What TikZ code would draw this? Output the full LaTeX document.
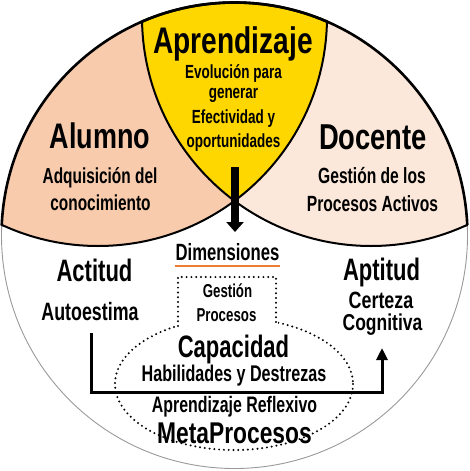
\documentclass[tikz,border=0pt]{standalone}
\usepackage{fontspec}
\newfontfamily\cf{Liberation Sans}[FakeStretch=0.76]
\newfontfamily\cn{Liberation Sans}[FakeStretch=0.71]
\usetikzlibrary{arrows.meta}
\definecolor{peach}{HTML}{F8CBAD}
\definecolor{lightpeach}{HTML}{FCE8DA}
\definecolor{gold}{HTML}{FFD700}
\definecolor{orangeline}{HTML}{ED7D31}
\newcommand{\fsz}[1]{\fontsize{#1}{#1}\selectfont}
\begin{document}
\begin{tikzpicture}[x=1pt,y=-1pt,
  txt/.style={inner sep=0pt, anchor=base},
  dotline/.style={line width=2.2pt, dash pattern=on 0pt off 4.8pt, line cap=round},
  regionline/.style={line width=2pt, black}]
\useasboundingbox (0,0) rectangle (469,471);
% colored regions
\begin{scope}
  \clip (234.5,235.5) circle[radius=233];
  \fill[peach] (98,17) circle[radius=229];
  \fill[lightpeach] (371,17) circle[radius=229];
  \begin{scope}
    \clip (98,17) circle[radius=229];
    \fill[gold] (371,17) circle[radius=229];
  \end{scope}
  \draw[regionline] (98,17) circle[radius=229];
  \draw[regionline] (371,17) circle[radius=229];
\end{scope}
% outer circle
\draw[gray!80, line width=0.9pt] (234.5,235.5) circle[radius=233];
\begin{scope}
  \clip (98,17) circle[radius=230];
  \draw[line width=2.6pt] (234.5,235.5) circle[radius=233];
\end{scope}
\begin{scope}
  \clip (371,17) circle[radius=230];
  \draw[line width=2.6pt] (234.5,235.5) circle[radius=233];
\end{scope}
% down arrow
\coordinate (arrtop) at (235,167);
\coordinate (arrtip) at (235,232);
\draw[line width=8pt, -{Triangle[width=17pt,length=10pt]}] (arrtop) -- (arrtip);
% dotted ellipse and box
\draw[dotline] (234,384) ellipse[x radius=119, y radius=66];
\fill[white] (176,276) rectangle (278,327.5);
\draw[dotline] (178,326) -- (178,277) -- (276,277) -- (276,322.5);
% top texts
\node[txt, font=\cf\bfseries\fsz{37}] (aprend) at (233,53) {Aprendizaje};
\node[txt, font=\cn\bfseries\fsz{19}] (evo1) at (233.5,78) {Evolución para};
\node[txt, font=\cn\bfseries\fsz{19}] (evo2) at (233.5,98.5) {generar};
\node[txt, font=\cn\bfseries\fsz{19}] (evo3) at (233.5,123) {Efectividad y};
\node[txt, font=\cn\bfseries\fsz{19}] (evo4) at (233.5,147) {oportunidades};
\node[txt, font=\cf\bfseries\fsz{35.5}] (alumno) at (100,148) {Alumno};
\node[txt, font=\cn\bfseries\fsz{21.7}] (alu1) at (100,183) {Adquisición del};
\node[txt, font=\cn\bfseries\fsz{21.7}] (alu2) at (100.5,210) {conocimiento};
\node[txt, font=\cf\bfseries\fsz{36}] (docente) at (373,149) {Docente};
\node[txt, font=\cn\bfseries\fsz{22}] (doc1) at (372,183) {Gestión de los};
\node[txt, font=\cn\bfseries\fsz{22}] (doc2) at (372.5,211) {Procesos Activos};
% lower texts
\node[txt, font=\cn\bfseries\fsz{23.5}] (dimen) at (227.5,260) {Dimensiones};
\coordinate (ulA) at (175,265.5);
\coordinate (ulB) at (280,265.5);
\draw[orangeline, line width=2pt] (ulA) -- (ulB);
\node[txt, font=\cn\bfseries\fsz{31}] (actitud) at (94.5,281.5) {Actitud};
\node[txt, font=\cn\bfseries\fsz{25.1}] (autoest) at (90,320) {Autoestima};
\node[txt, font=\cn\bfseries\fsz{31}] (aptitud) at (381.5,280) {Aptitud};
\node[txt, font=\cf\bfseries\fsz{23.5}] (certeza) at (381,308) {Certeza};
\node[txt, font=\cf\bfseries\fsz{23}] (cognit) at (382.5,330) {Cognitiva};
\node[txt, font=\cn\bfseries\fsz{18.7}] (gestion) at (227.5,297) {Gestión};
\node[txt, font=\cn\bfseries\fsz{18.7}] (procesos) at (226.5,321) {Procesos};
\node[txt, font=\cn\bfseries\fsz{31}] (capac) at (233.5,357) {Capacidad};
\node[txt, font=\cn\bfseries\fsz{22.7}] (habil) at (234,381) {Habilidades y Destrezas};
\node[txt, font=\cn\bfseries\fsz{22.4}] (aprref) at (234.5,412) {Aprendizaje Reflexivo};
\node[txt, font=\cf\bfseries\fsz{30}] (meta) at (234.5,443) {MetaProcesos};
% connector
\coordinate (cstart) at (91,333);
\coordinate (cbot) at (91,392);
\coordinate (cend) at (382,348);
\draw[line width=3pt, -{Triangle[width=11pt,length=12pt]}] (cstart) -- (cbot) -| (cend);
\end{tikzpicture}
\end{document}
